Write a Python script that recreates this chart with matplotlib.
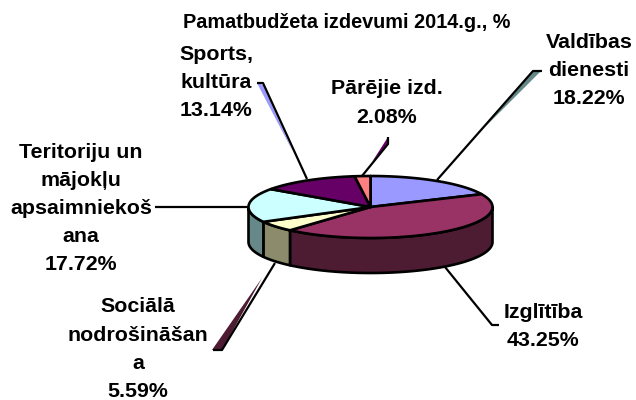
import matplotlib
matplotlib.use("Agg")
import matplotlib.pyplot as plt
from matplotlib.patches import Polygon
import numpy as np

plt.rcParams['font.family'] = ['Liberation Sans', 'DejaVu Sans']

# slices go clockwise from 12 o'clock
names = ["Valdības dienesti", "Izglītība", "Sociālā nodrošināšana",
         "Teritoriju un mājokļu apsaimniekošana", "Sports, kultūra", "Pārējie izd."]
values = [18.22, 43.25, 5.59, 17.72, 13.14, 2.08]
top_colors = ["#9999FF", "#993366", "#FFFFCC", "#CCFFFF", "#660066", "#FF8080"]
side_colors = ["#666699", "#4D1C33", "#8C8C6C", "#668888", "#330033", "#804040"]

title = "Pamatbudžeta izdevumi 2014.g., %"
label_lines = [
    ["Valdības", "dienesti", "18.22%"],
    ["Izglītība", "43.25%"],
    ["Sociālā", "nodrošināšan", "a", "5.59%"],
    ["Teritoriju un", "mājokļu", "apsaimniekoš", "ana", "17.72%"],
    ["Sports,", "kultūra", "13.14%"],
    ["Pārējie izd.", "2.08%"],
]

# layout, in pixels
cx, cy, rx, ry, depth = 370.5, 207, 122, 31, 35
label_x = [589, 543, 138, 81, 216, 387]
label_y = [42, 312, 307, 152, 54, 89]
label_step = 28.2
leaders = [
    [(437, 180), (533, 71), (542, 71)],
    [(445, 267), (492, 325), (499, 325)],
    [(275, 263), (222, 350), (213, 350)],
    [(248, 207), (155, 207)],
    [(307, 179), (263, 83), (257, 83)],
    [(362, 176), (388, 144), (388, 137)],
]
# thin shaded wedges next to the leader lines
wedges = [
    ([(533, 72), (540, 72), (484, 128)], "#668888"),
    ([(222, 350), (212, 350), (262, 278)], "#4D1C33"),
    ([(257, 83), (263, 85), (293, 152)], "#9999FF"),
    ([(388, 137), (388, 144), (372, 162)], "#660066"),
]

fig = plt.figure(figsize=(6.36, 4.0), dpi=100)
ax = fig.add_axes([0, 0, 1, 1])
ax.set_xlim(0, 636)
ax.set_ylim(400, 0)
ax.axis("off")


def arc(t0, t1, dy=0):
    t = np.radians(np.linspace(t0, t1, 80))
    return np.column_stack([cx + rx * np.sin(t), cy + dy - ry * np.cos(t)])


for pts, col in wedges:
    ax.add_patch(Polygon(pts, closed=True, fc=col, ec="none", zorder=1))
for pts in leaders:
    xs, ys = zip(*pts)
    ax.plot(xs, ys, color="black", lw=1.6, zorder=2, solid_capstyle="butt")

edges = np.concatenate([[0], np.cumsum(values)]) / sum(values) * 360

# front wall
for i in range(len(values)):
    t0, t1 = max(edges[i], 90), min(edges[i + 1], 270)
    if t1 <= t0:
        continue
    pts = np.vstack([arc(t0, t1), arc(t1, t0, depth)])
    ax.add_patch(Polygon(pts, closed=True, fc=side_colors[i], ec="black", lw=1.9,
                         joinstyle="round", zorder=3))

# top face
for i in range(len(values)):
    pts = np.vstack([[(cx, cy)], arc(edges[i], edges[i + 1])])
    ax.add_patch(Polygon(pts, closed=True, fc=top_colors[i], ec="black", lw=1.9,
                         joinstyle="round", zorder=4))

ax.text(347, 22, title, ha="center", va="center", fontsize=14.3, fontweight="bold")
for i, lines in enumerate(label_lines):
    for j, line in enumerate(lines):
        ax.text(label_x[i], label_y[i] + j * label_step, line, ha="center", va="center",
                fontsize=15.4, fontweight="bold", zorder=5)

fig.savefig("out.png", dpi=100, facecolor="white")
